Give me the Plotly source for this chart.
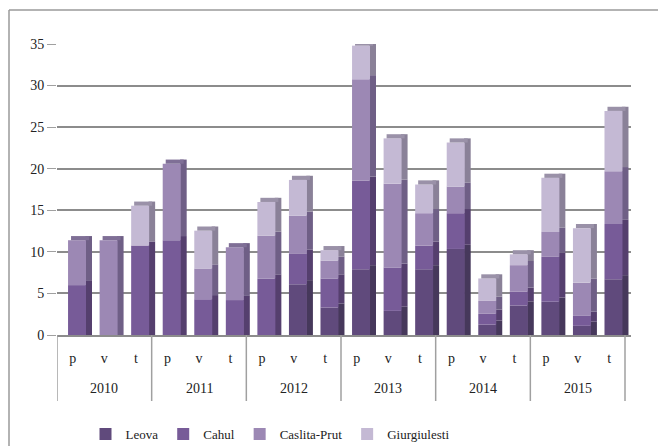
import plotly.graph_objects as go

years = ["2010"] * 3 + ["2011"] * 3 + ["2012"] * 3 + ["2013"] * 3 + ["2014"] * 3 + ["2015"] * 3
periods = ["p", "v", "t"] * 6
year_labels = ["2010", "2011", "2012", "2013", "2014", "2015"]

leova = [0, 0, 0, 0, 0, 0, 0, 6.1, 3.3, 7.9, 2.9, 7.9, 10.35, 1.25, 3.55, 4.0, 1.1, 6.7]
cahul = [6.0, 0, 10.75, 11.4, 4.3, 4.2, 6.8, 3.65, 3.5, 10.65, 5.2, 2.85, 4.3, 1.3, 1.65, 5.4, 1.2, 6.65]
caslita = [5.4, 11.4, 0, 9.2, 3.7, 6.35, 5.15, 4.6, 2.15, 12.2, 10.1, 3.9, 3.2, 1.55, 3.2, 3.0, 4.0, 6.35]
giurg = [0, 0, 4.8, 0, 4.55, 0, 4.05, 4.3, 1.25, 4.05, 5.45, 3.45, 5.3, 2.7, 1.3, 6.5, 6.55, 7.25]

# (name, values, front colour, side colour, top colour)
series = [
    ("Leova", leova, "#604a7c", "#46385b", "#54446c"),
    ("Cahul", cahul, "#775b98", "#553f6e", "#6a5686"),
    ("Caslita-Prut", caslita, "#9c88b4", "#6f5f86", "#7f6f96"),
    ("Giurgiulesti", giurg, "#c4b9d4", "#8a8198", "#9a91a8"),
]

serif = "Liberation Serif, 'Times New Roman', serif"
xpos = list(range(len(periods)))
DEPTH = 0.5   # visual depth of the pseudo-3D faces, in value units
FRONT_OFF, FRONT_W = -0.15, 0.57
SIDE_W = 0.19

fig = go.Figure()
base = [0.0] * len(xpos)
top_color = ["#ffffff"] * len(xpos)
for name, vals, col, side, topc in series:
    side_base = [b + DEPTH if b > 0 else 0.0 for b in base]
    side_top = [b + v + DEPTH if v > 0 else sb for b, v, sb in zip(base, vals, side_base)]
    fig.add_trace(go.Bar(
        x=xpos, y=[t - sb for t, sb in zip(side_top, side_base)], base=side_base,
        marker=dict(color=side, line=dict(width=0)),
        width=SIDE_W + 0.02, offset=FRONT_OFF + FRONT_W - 0.02,
        showlegend=False, hoverinfo="skip",
    ))
    fig.add_trace(go.Bar(
        x=xpos, y=vals, base=list(base), name=name,
        marker=dict(color=col, line=dict(width=0)),
        width=FRONT_W, offset=FRONT_OFF,
    ))
    top_color = [topc if v > 0 else tc for v, tc in zip(vals, top_color)]
    base = [b + v for b, v in zip(base, vals)]

# top cap of each column
fig.add_trace(go.Bar(
    x=xpos, y=[DEPTH] * len(xpos), base=base,
    marker=dict(color=top_color, line=dict(width=0)),
    width=FRONT_W, offset=FRONT_OFF + SIDE_W * 0.5,
    showlegend=False, hoverinfo="skip",
))

# year group labels and dividers (layout decoration derived from category list)
annotations = []
shapes = []
for i, yl in enumerate(year_labels):
    annotations.append(dict(
        x=3 * i + 1, y=(335 - 388) / 291, xref="x", yref="paper",
        text=yl, showarrow=False, xanchor="center", yanchor="middle",
        font=dict(family=serif, size=14, color="#222"),
    ))
for i in range(len(year_labels) + 1):
    shapes.append(dict(
        type="line", xref="x", yref="paper",
        x0=3 * i - 0.5, x1=3 * i - 0.5, y0=0, y1=(335 - 401) / 291,
        line=dict(color="#a0a0a0", width=1.5),
    ))
# outer frame (top and left edges)
fx = (9 - 57) / 574
fy = (335 - 10) / 291
shapes.append(dict(type="line", xref="paper", yref="paper", x0=fx, x1=1.2, y0=fy, y1=fy,
                   line=dict(color="#9a9a9a", width=1.5)))
shapes.append(dict(type="line", xref="paper", yref="paper", x0=fx, x1=fx, y0=fy, y1=-0.45,
                   line=dict(color="#9a9a9a", width=1.5)))

fig.update_layout(
    barmode="overlay",
    width=658, height=446,
    margin=dict(l=57, r=27, t=44, b=111, autoexpand=False),
    paper_bgcolor="white", plot_bgcolor="white",
    font=dict(family=serif, size=13, color="#222"),
    showlegend=True,
    legend=dict(orientation="h", x=(270 - 57) / 574, xanchor="center",
                y=(335 - 434) / 291, yanchor="middle",
                traceorder="normal",
                font=dict(family=serif, size=13, color="#222"),
                itemwidth=30, tracegroupgap=0),
    xaxis=dict(
        range=[-0.5, 17.69],
        tickmode="array", tickvals=xpos, ticktext=periods,
        showline=True, linecolor="#8c8c8c", linewidth=1.5,
        tickfont=dict(family=serif, size=14, color="#222"),
        ticks="", ticklabelstandoff=9, showgrid=False, zeroline=False,
    ),
    yaxis=dict(
        range=[0, 35], dtick=5, tick0=0,
        showgrid=True, gridcolor="#8c8c8c", gridwidth=1.5,
        ticks="outside", ticklen=9, tickcolor="#a0a0a0", tickwidth=1,
        tickfont=dict(family=serif, size=14, color="#222"),
        showline=False, zeroline=False,
    ),
    annotations=annotations,
    shapes=shapes,
)

fig.write_html("out.html")
